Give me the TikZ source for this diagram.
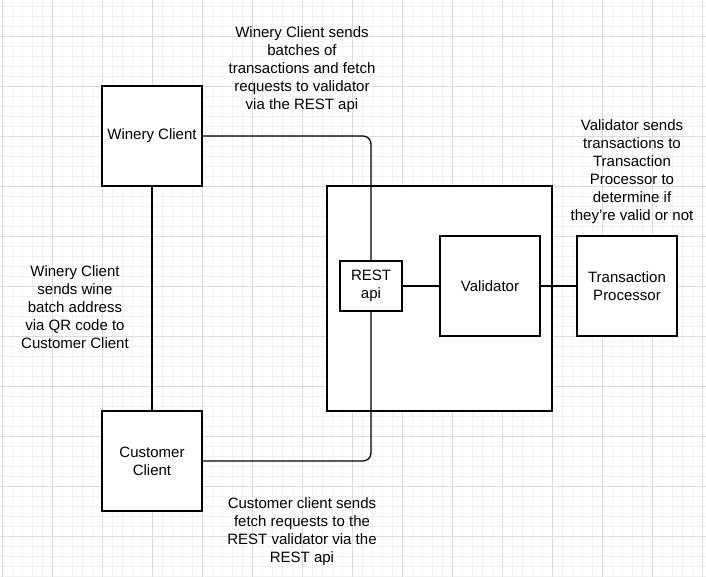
\documentclass[tikz,border=0pt]{standalone}
\usepackage{fontspec}
\setmainfont{Liberation Sans}
\definecolor{gridminor}{RGB}{242,242,242}
\definecolor{gridmajor}{RGB}{220,220,220}
\tikzstyle{every node} = [font=\fontsize{15}{18}\selectfont]
\tikzstyle{block} = [draw, line width=1.3pt, fill=white, align=center, inner sep=0pt, minimum width=100pt, minimum height=100pt]
\tikzstyle{note} = [align=center, inner sep=0pt]
\tikzstyle{link} = [line width=1.3pt, rounded corners=8pt]

\begin{document}
\begin{tikzpicture}[x=1pt, y=-1pt]
        \useasboundingbox[fill=white] (0,0) rectangle (706,577);
        % background grid
        \foreach \gx in {2,12,...,702} {\draw[gridminor] (\gx,0) -- (\gx,577);}
        \foreach \gy in {6,16,...,576} {\draw[gridminor] (0,\gy) -- (706,\gy);}
        \foreach \gx in {2,52,...,702} {\draw[gridmajor] (\gx,0) -- (\gx,577);}
        \foreach \gy in {36,86,...,536} {\draw[gridmajor] (0,\gy) -- (706,\gy);}

        \node[block, minimum width=225pt, minimum height=225pt] (system) at (439.5,298.5) {};

        \node[block] (winery) at (152,136) {Winery Client};
        \node[block] (customer) at (152,461) {Customer\\Client};
        \node[block, minimum width=62pt, minimum height=50pt] (rest) at (371,286) {REST\\api};
        \node[block] (validator) at (490,286) {Validator};
        \node[block] (processor) at (627,286) {Transaction\\Processor};

        \draw[link] (winery.east) -| (rest.north);
        \draw[link] (customer.east) -| (rest.south);
        \draw[link] (winery.south) -- (customer.north);
        \draw[link] (rest.east) -- (validator.west);
        \draw[link] (validator.east) -- (processor.west);

        \node[note] (batchnote) at (302,70) {Winery Client sends\\batches of\\transactions and fetch\\requests to validator\\via the REST api};
        \node[note] (qrnote) at (75,307) {Winery Client\\sends wine\\batch address\\via QR code to\\Customer Client};
        \node[note] (checknote) at (632,172) {Validator sends\\transactions to\\Transaction\\Processor to\\determine if\\they're valid or not};
        \node[note] (fetchnote) at (302,532) {Customer client sends\\fetch requests to the\\REST validator via the\\REST api};
    \end{tikzpicture}
\end{document}
